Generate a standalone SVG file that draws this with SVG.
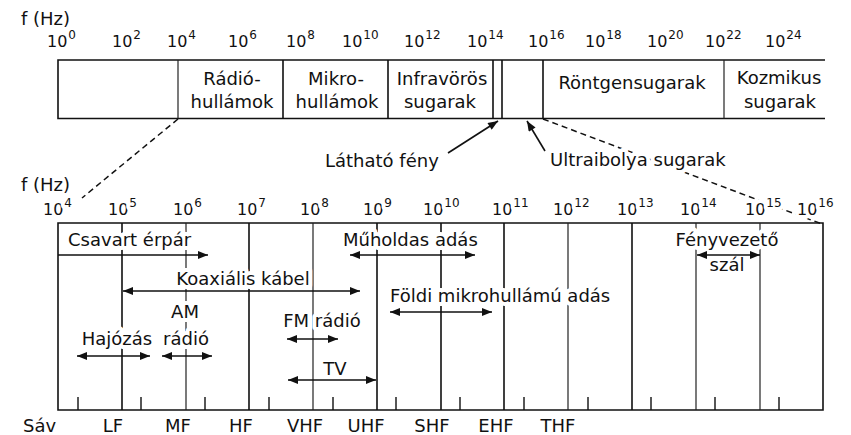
<svg xmlns="http://www.w3.org/2000/svg" width="851" height="435" viewBox="0 0 851 435">
<style>
text{font-family:"DejaVu Sans","Liberation Sans",sans-serif;font-size:18px;fill:#111}
.exp{font-size:16px}
.sup{font-size:12px}
.c{text-anchor:middle}
.h{stroke:#fff;stroke-width:8px;paint-order:stroke;stroke-linejoin:round}
.ln{stroke:#111;stroke-width:1.6;fill:none}
.lt{stroke:#222;stroke-width:1.2;fill:none}
.tk{stroke:#111;stroke-width:1.4}
.dash{stroke:#111;stroke-width:1.5;stroke-dasharray:6 4;fill:none}
.arr{stroke:#111;stroke-width:1.6;fill:none;marker-end:url(#ah)}
.arr2{stroke:#111;stroke-width:1.6;fill:none;marker-start:url(#ah);marker-end:url(#ah)}
</style>
<defs>
<marker id="ah" viewBox="0 0 10 8" refX="10" refY="4" markerWidth="11" markerHeight="8" markerUnits="userSpaceOnUse" orient="auto-start-reverse">
<path d="M0,0 L10,4 L0,8 Z" fill="#111"/>
</marker>
</defs>
<rect width="851" height="435" fill="#fff"/>

<g id="top-axis">
<text x="21" y="25">f (Hz)</text>
<text class="exp" x="47" y="47">10<tspan class="sup" dx="1" dy="-8">0</tspan></text>
<text class="exp" x="112" y="47">10<tspan class="sup" dx="1" dy="-8">2</tspan></text>
<text class="exp" x="167" y="47">10<tspan class="sup" dx="1" dy="-8">4</tspan></text>
<text class="exp" x="228" y="47">10<tspan class="sup" dx="1" dy="-8">6</tspan></text>
<text class="exp" x="286" y="47">10<tspan class="sup" dx="1" dy="-8">8</tspan></text>
<text class="exp" x="342" y="47">10<tspan class="sup" dx="1" dy="-8">10</tspan></text>
<text class="exp" x="404" y="47">10<tspan class="sup" dx="1" dy="-8">12</tspan></text>
<text class="exp" x="467" y="47">10<tspan class="sup" dx="1" dy="-8">14</tspan></text>
<text class="exp" x="528" y="47">10<tspan class="sup" dx="1" dy="-8">16</tspan></text>
<text class="exp" x="585" y="47">10<tspan class="sup" dx="1" dy="-8">18</tspan></text>
<text class="exp" x="647" y="47">10<tspan class="sup" dx="1" dy="-8">20</tspan></text>
<text class="exp" x="705" y="47">10<tspan class="sup" dx="1" dy="-8">22</tspan></text>
<text class="exp" x="765" y="47">10<tspan class="sup" dx="1" dy="-8">24</tspan></text>
</g>

<g id="spectrum-bar">
<path class="ln" d="M825,60 H58 V118.5 H825"/>
<path class="lt" d="M178,60 V118.5"/>
<path class="ln" d="M283,60 V118.5 M388,60 V118.5 M493,60 V118.5 M502,60 V118.5 M543,60 V118.5"/>
<path class="lt" d="M724,60 V118.5"/>
</g>
<g id="radio-waves"><text class="c" x="232" y="85">Rádió-</text><text class="c" x="232" y="108">hullámok</text></g>
<g id="microwaves"><text class="c" x="336" y="85">Mikro-</text><text class="c" x="337" y="108">hullámok</text></g>
<g id="infrared"><text class="c" x="442" y="85">Infravörös</text><text class="c" x="440" y="108">sugarak</text></g>
<g id="xray"><text class="c" x="632" y="89">Röntgensugarak</text></g>
<g id="cosmic"><text class="c" x="779" y="84">Kozmikus</text><text class="c" x="780" y="108">sugarak</text></g>

<g id="bottom-bar">
<path class="ln" d="M58,223 H823 V410 H58 Z"/>
<path class="ln" d="M122,223 V410 M249,223 V410 M377,223 V410 M441,223 V410 M504,223 V410 M632,223 V410"/>
<path class="lt" d="M186,223 V410 M313,223 V410 M568,223 V410 M696,223 V410 M760,223 V410"/>
<path class="tk" d="M78,397 V410 M141,397 V410 M205,397 V410 M269,397 V410 M333,397 V410 M396,397 V410 M460,397 V410 M524,397 V410 M588,397 V410 M651,397 V410 M715,397 V410 M779,397 V410"/>
</g>

<g id="connectors">
<path class="dash" d="M178,119 L82,198"/>
<path class="dash" d="M543,119 L822,224"/>
<path class="arr" d="M448,153 L498,121"/>
<path class="arr" d="M545,151 L527,121"/>
</g>

<g id="visible-label"><text class="h" x="325" y="167">Látható fény</text></g>
<g id="uv-label"><text class="h" x="550" y="166">Ultraibolya sugarak</text></g>

<g id="bottom-axis">
<text class="h" x="21" y="191">f (Hz)</text>
<text class="exp h" x="43" y="215">10<tspan class="sup" dx="1" dy="-8">4</tspan></text>
<text class="exp h" x="108" y="215">10<tspan class="sup" dx="1" dy="-8">5</tspan></text>
<text class="exp h" x="173" y="215">10<tspan class="sup" dx="1" dy="-8">6</tspan></text>
<text class="exp h" x="237" y="215">10<tspan class="sup" dx="1" dy="-8">7</tspan></text>
<text class="exp h" x="300" y="215">10<tspan class="sup" dx="1" dy="-8">8</tspan></text>
<text class="exp h" x="363" y="215">10<tspan class="sup" dx="1" dy="-8">9</tspan></text>
<text class="exp h" x="423" y="215">10<tspan class="sup" dx="1" dy="-8">10</tspan></text>
<text class="exp h" x="492" y="215">10<tspan class="sup" dx="1" dy="-8">11</tspan></text>
<text class="exp h" x="553" y="215">10<tspan class="sup" dx="1" dy="-8">12</tspan></text>
<text class="exp h" x="617" y="215">10<tspan class="sup" dx="1" dy="-8">13</tspan></text>
<text class="exp h" x="680" y="215">10<tspan class="sup" dx="1" dy="-8">14</tspan></text>
<text class="exp h" x="745" y="215">10<tspan class="sup" dx="1" dy="-8">15</tspan></text>
<text class="exp h" x="797" y="215">10<tspan class="sup" dx="1" dy="-8">16</tspan></text>
</g>

<g id="twisted-pair"><text class="h" x="68" y="246">Csavart érpár</text></g>
<g id="satellite"><text class="h" x="343" y="246">Műholdas adás</text></g>
<g id="fiber"><text class="c h" x="727" y="246">Fényvezető</text><text class="c h" x="727" y="271">szál</text></g>
<g id="coax"><text class="c h" x="243" y="285">Koaxiális kábel</text></g>
<g id="terrestrial-microwave"><text class="h" x="390" y="302">Földi mikrohullámú adás</text></g>
<g id="am-radio"><text class="c h" x="185" y="318">AM</text><text class="c h" x="186" y="345">rádió</text></g>
<g id="maritime"><text class="c h" x="117" y="345">Hajózás</text></g>
<g id="fm-radio"><text class="c h" x="322" y="327">FM rádió</text></g>
<g id="tv"><text class="c h" x="335" y="375">TV</text></g>

<g id="band-arrows">
<path class="arr" d="M58,255 H208"/>
<path class="arr2" d="M350,255 H475"/>
<path class="arr2" d="M697,255 H760"/>
<path class="arr2" d="M123,291 H360"/>
<path class="arr2" d="M390,312 H492"/>
<path class="arr2" d="M287,339 H338"/>
<path class="arr2" d="M77,356 H150"/>
<path class="arr2" d="M162,356 H212"/>
<path class="arr2" d="M288,380 H376"/>
</g>

<g id="bands">
<text x="23" y="432">Sáv</text>
<text class="c" x="113" y="432">LF</text>
<text class="c" x="178" y="432">MF</text>
<text class="c" x="241" y="432">HF</text>
<text class="c" x="305" y="432">VHF</text>
<text class="c" x="366" y="432">UHF</text>
<text class="c" x="432" y="432">SHF</text>
<text class="c" x="496" y="432">EHF</text>
<text class="c" x="558" y="432">THF</text>
</g>
</svg>
